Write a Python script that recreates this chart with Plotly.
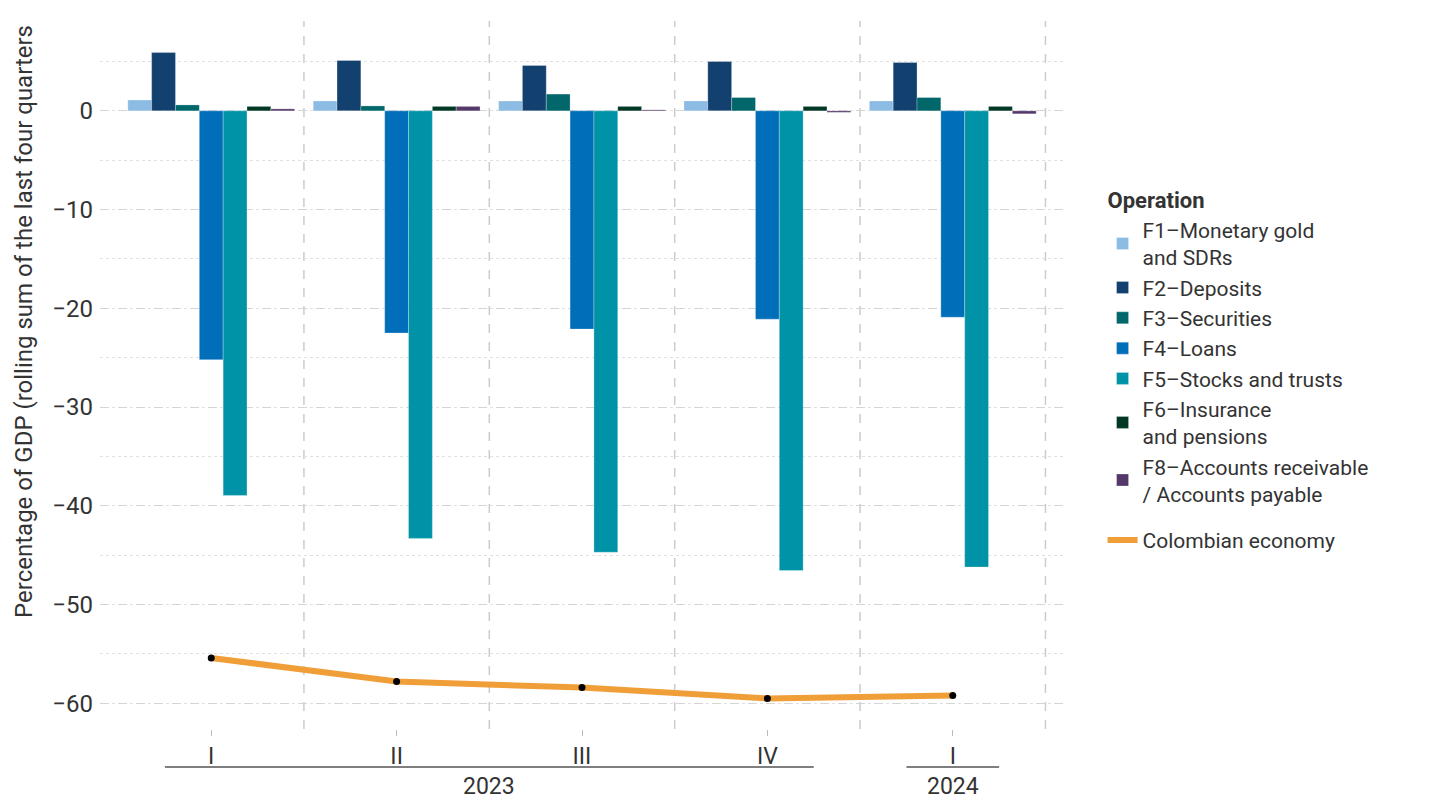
import plotly.graph_objects as go

# ---- data ----
quarters = ["I", "II", "III", "IV", "I"]
years = ["2023", "2023", "2023", "2023", "2024"]

series_names = [
    "F1–Monetary gold<br>and SDRs",
    "F2–Deposits",
    "F3–Securities",
    "F4–Loans",
    "F5–Stocks and trusts",
    "F6–Insurance<br>and pensions",
    "F8–Accounts receivable<br>/ Accounts payable",
]
f1 = [1.1, 1.0, 1.0, 1.0, 1.0]
f2 = [5.9, 5.1, 4.6, 5.0, 4.9]
f3 = [0.6, 0.5, 1.7, 1.35, 1.35]
f4 = [-25.2, -22.5, -22.1, -21.1, -20.9]
f5 = [-38.95, -43.3, -44.7, -46.55, -46.2]
f6 = [0.45, 0.45, 0.45, 0.45, 0.45]
f8 = [0.2, 0.45, 0.1, -0.15, -0.3]
economy = [-55.4, -57.8, -58.4, -59.5, -59.2]
line_name = "Colombian economy"

series_values = [f1, f2, f3, f4, f5, f6, f8]
colors = ["#8CBCE4", "#12406F", "#02676A", "#006EB8", "#0093A7", "#003825", "#55386A"]

y_ticks = [0, -10, -20, -30, -40, -50, -60]

# ---- figure ----
xpos = list(range(len(quarters)))
fig = go.Figure()
for k, (name, vals, col) in enumerate(zip(series_names, series_values, colors)):
    fig.add_trace(go.Bar(
        x=xpos, y=vals, name=name, marker_color=col,
        marker_line=dict(width=0.6, color="rgba(255,255,255,0.45)"),
        legendgroup="ops",
        legendgrouptitle=dict(text="<b>Operation</b>") if k == 0 else None,
    ))

fig.add_trace(go.Scatter(
    x=xpos, y=economy, name=line_name, mode="lines",
    line=dict(color="#F09E38", width=6), legendgroup="eco",
))
fig.add_trace(go.Scatter(
    x=xpos, y=economy, mode="markers", showlegend=False,
    marker=dict(color="black", size=7), hoverinfo="skip",
))

# vertical separators between quarters
for i in xpos:
    fig.add_shape(type="line", xref="x", yref="paper", x0=i + 0.5, x1=i + 0.5,
                  y0=0, y1=1, line=dict(color="#CCCCCC", width=1.5, dash="dash"), layer="below")

# year group lines and labels
groups = {}
for i, yr in enumerate(years):
    groups.setdefault(yr, []).append(i)
for yr, idx in groups.items():
    fig.add_shape(type="line", xref="x", yref="paper",
                  x0=min(idx) - 0.25, x1=max(idx) + 0.25, y0=-0.0537, y1=-0.0537,
                  line=dict(color="#555555", width=1.5))
    fig.add_annotation(text=yr, xref="x", yref="paper", x=(min(idx) + max(idx)) / 2,
                       y=-0.081, showarrow=False, font=dict(size=23, color="#333333"),
                       yanchor="middle")

fig.add_annotation(text="Percentage of GDP (rolling sum of the last four quarters",
                   xref="paper", yref="paper", x=-0.0788, y=0.575,
                   textangle=-90, showarrow=False, font=dict(size=24, color="#333333"),
                   xanchor="center", yanchor="middle")

fig.update_layout(
    width=1440, height=800,
    margin=dict(l=92, r=384, t=13, b=79),
    paper_bgcolor="white", plot_bgcolor="white",
    font=dict(family="Roboto", size=20, color="#333333"),
    barmode="group", bargap=0.1, bargroupgap=0,
    legend=dict(x=1.04, xanchor="left", y=0.778, yanchor="top",
                font=dict(size=21, color="#333333"),
                grouptitlefont=dict(size=22, color="#333333"),
                tracegroupgap=16, traceorder="grouped"),
    xaxis=dict(range=[-0.6, 4.6], tickvals=xpos, ticktext=quarters,
               showgrid=False, zeroline=False, ticks="outside", ticklen=6,
               tickcolor="#BBBBBB", showline=False, tickfont=dict(size=23)),
    yaxis=dict(range=[-62.6, 9.1], tickvals=y_ticks,
               ticktext=[("−" + str(-v)) if v < 0 else str(v) for v in y_ticks],
               showgrid=True, gridcolor="#D5D5D5", griddash="dash", gridwidth=1,
               minor=dict(dtick=5, showgrid=True, gridcolor="#E0E0E0", griddash="dot"),
               zeroline=False, ticks="", ticklabelstandoff=6, tickfont=dict(size=24)),
)

fig.write_html("out.html")
